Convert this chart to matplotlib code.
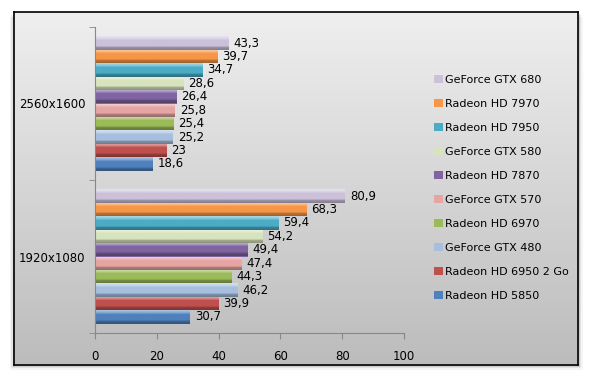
import numpy as np
import matplotlib.pyplot as plt
from matplotlib.colors import LinearSegmentedColormap, to_rgb
from matplotlib.patches import Rectangle

categories = ['1920x1080', '2560x1600']
series = ['Radeon HD 5850', 'Radeon HD 6950 2 Go', 'GeForce GTX 480', 'Radeon HD 6970',
          'GeForce GTX 570', 'Radeon HD 7870', 'GeForce GTX 580', 'Radeon HD 7950',
          'Radeon HD 7970', 'GeForce GTX 680']
values_1080 = [30.7, 39.9, 46.2, 44.3, 47.4, 49.4, 54.2, 59.4, 68.3, 80.9]
values_1600 = [18.6, 23.0, 25.2, 25.4, 25.8, 26.4, 28.6, 34.7, 39.7, 43.3]
colors = ['#4F81BD', '#C0504D', '#A7BFDE', '#9BBB59', '#E6A5A3',
          '#8064A2', '#D7E4BD', '#4BACC6', '#F79646', '#CCC1DA']
x_ticks = [0, 20, 40, 60, 80, 100]

FONT = 8.5


def fmt(v):
    s = f"{v:g}"
    return s.replace('.', ',')


def mix(c, other, t):
    c = np.array(to_rgb(c)); o = np.array(to_rgb(other))
    return tuple(c * (1 - t) + o * t)


fig = plt.figure(figsize=(5.9, 3.76), dpi=100)
fig.patch.set_facecolor('white')

# chart frame with gradient background and soft shadow
fx0, fy0, fx1, fy1 = 14 / 590, 1 - 365 / 376, 578 / 590, 1 - 12 / 376
for i, a in enumerate([0.10, 0.07, 0.04]):
    d = (i + 1) * 1.5
    fig.patches.append(Rectangle((fx0 - d / 590, fy0 - d / 376), fx1 - fx0 + 2 * d / 590,
                                 fy1 - fy0, transform=fig.transFigure, facecolor='black',
                                 alpha=a, edgecolor='none', zorder=-5))
bg = fig.add_axes([fx0, fy0, fx1 - fx0, fy1 - fy0], zorder=0)
grad = np.linspace(0, 1, 256).reshape(-1, 1)
bg_cmap = LinearSegmentedColormap.from_list('bg', ['#efefef', '#bcbcbc'])
bg.imshow(grad, aspect='auto', cmap=bg_cmap, extent=[0, 1, 0, 1], origin='upper')
bg.set_xticks([]); bg.set_yticks([])
for s in bg.spines.values():
    s.set_linewidth(1.2)
    s.set_color('black')

ax = fig.add_axes([95 / 590, 1 - 333 / 376, (404 - 95) / 590, (333 - 27) / 376], zorder=1)
ax.patch.set_alpha(0)

n = len(series)
group = 0.876
h = group / n
y = np.arange(len(categories))
for i, name in enumerate(series):
    vals = [values_1080[i], values_1600[i]]
    pos = y - group / 2 + h * (i + 0.5)
    bars = ax.barh(pos, vals, height=h, color=colors[i], label=name, edgecolor='none')
    c = colors[i]
    cmap = LinearSegmentedColormap.from_list(
        'b%d' % i, [(0, mix(c, 'white', 0.55)), (0.22, mix(c, 'white', 0.25)),
                    (0.3, c), (0.72, c), (0.8, mix(c, 'black', 0.25)),
                    (1, mix(c, 'black', 0.35))])
    for b, v in zip(bars, vals):
        x0, y0 = b.get_x(), b.get_y()
        w, hh = b.get_width(), b.get_height()
        im = ax.imshow(grad, aspect='auto', cmap=cmap, origin='upper',
                       extent=[x0, x0 + w, y0, y0 + hh], zorder=2)
        im.set_clip_path(b)
        ax.text(v + 1.6, y0 + hh / 2, fmt(v), va='center', ha='left', fontsize=FONT,
                color='black')

ax.set_xlim(0, 100)
ax.set_ylim(-0.5, 1.5)
ax.set_xticks(x_ticks)
ax.set_xticklabels([str(t) for t in x_ticks], fontsize=FONT)
ax.set_yticks(y)
ax.set_yticklabels(categories, fontsize=FONT)
ax.set_yticks([-0.5, 0.5, 1.5], minor=True)
ax.tick_params(axis='y', which='major', length=0, pad=7)
ax.tick_params(axis='y', which='minor', length=4, color='#888888')
ax.tick_params(axis='x', length=4, color='#888888', pad=8)
for s in ['top', 'right']:
    ax.spines[s].set_visible(False)
for s in ['left', 'bottom']:
    ax.spines[s].set_color('#888888')

handles, labels = ax.get_legend_handles_labels()
fig.legend(handles[::-1], labels[::-1], loc='center left', bbox_to_anchor=(424 / 590, 1 - 188 / 376),
           frameon=False, fontsize=FONT - 0.5, handlelength=0.8, handleheight=0.8,
           handletextpad=0.2, labelspacing=1.25)

fig.savefig('out.png', dpi=100)
